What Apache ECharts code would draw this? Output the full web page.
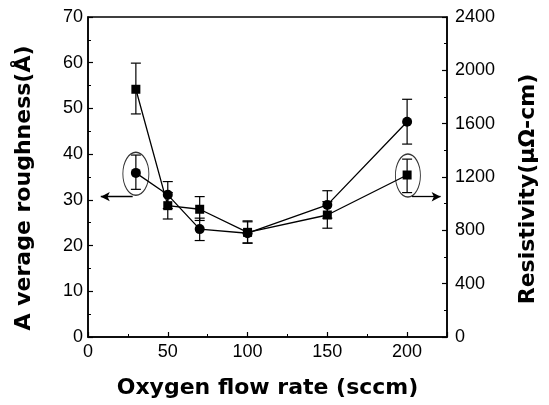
<!DOCTYPE html>
<html><head><meta charset="utf-8">
<script src="https://cdn.jsdelivr.net/npm/echarts@6/dist/echarts.min.js"></script>
<style>html,body{margin:0;padding:0;background:#fff}#c{width:549px;height:405px}</style>
</head><body><div id="c"></div>
<script>
// Data
const flowRates = [30, 50, 70, 100, 150, 200];
// Average roughness (Å) - circles, left axis
const roughness = [35.9, 31.1, 23.6, 22.7, 28.9, 47.1];
const roughnessLow = [32.3, 28.1, 21.1, 20.5, 26.0, 42.2];
const roughnessHigh = [39.8, 34.0, 26.0, 25.2, 32.0, 52.0];
// Resistivity (µΩ-cm) - squares, right axis
const resistivity = [1858, 985, 958, 785, 915, 1215];
const resistivityLow = [1673, 885, 874, 706, 816, 1083];
const resistivityHigh = [2054, 1083, 1053, 871, 1015, 1334];
// Annotation ellipses and arrows (data coords)
const leftEllipse = [30, 35.7];
const rightEllipse = [200.5, 1211];
const leftArrow = [[28, 30.7], [8, 30.7]];
const rightArrow = [[203, 1052], [221, 1052]];
const xTicks = [0, 225, 50];
const yLeftTicks = [0, 70, 10];
const yRightTicks = [0, 2400, 400];

const chart = echarts.init(document.getElementById('c'));
const tickFont = {fontFamily: 'Liberation Sans, Arial, sans-serif', fontSize: 18, color: '#000'};
const titleFont = {fontFamily: 'DejaVu Sans, sans-serif', fontSize: 22, fontWeight: 'bold', color: '#000'};

function errRender(params, api) {
  const x = api.value(0), lo = api.value(1), hi = api.value(2);
  const p1 = api.coord([x, lo]), p2 = api.coord([x, hi]);
  const w = 5;
  const st = {stroke: '#000', lineWidth: 1.2};
  return {type: 'group', children: [
    {type: 'line', shape: {x1: p1[0], y1: p1[1], x2: p2[0], y2: p2[1]}, style: st},
    {type: 'line', shape: {x1: p1[0]-w, y1: p1[1], x2: p1[0]+w, y2: p1[1]}, style: st},
    {type: 'line', shape: {x1: p2[0]-w, y1: p2[1], x2: p2[0]+w, y2: p2[1]}, style: st}
  ]};
}

chart.setOption({
  animation: false,
  backgroundColor: '#fff',
  grid: {left: 88, right: 102, top: 17, bottom: 68, show: true, borderColor: '#000', borderWidth: 1.5},
  xAxis: {
    type: 'value', min: xTicks[0], max: xTicks[1], interval: xTicks[2],
    axisLine: {lineStyle: {color: '#000', width: 1.5}},
    axisTick: {inside: true, length: 5, lineStyle: {color: '#000', width: 1.2}},
    minorTick: {show: true, splitNumber: 2, length: 3, lineStyle: {color: '#000'}},
    splitLine: {show: false},
    axisLabel: Object.assign({margin: 6, showMaxLabel: false}, tickFont),
    name: 'Oxygen flow rate (sccm)', nameLocation: 'middle', nameGap: 40,
    nameTextStyle: titleFont
  },
  yAxis: [{
    type: 'value', min: yLeftTicks[0], max: yLeftTicks[1], interval: yLeftTicks[2],
    axisLine: {show: true, lineStyle: {color: '#000', width: 1.5}},
    axisTick: {show: true, inside: true, length: 5, lineStyle: {color: '#000', width: 1.2}},
    minorTick: {show: true, splitNumber: 2, length: 3, lineStyle: {color: '#000'}},
    splitLine: {show: false},
    axisLabel: Object.assign({margin: 5}, tickFont),
    name: 'A verage roughness(Å)', nameLocation: 'middle', nameGap: 53, nameRotate: 90,
    nameTextStyle: Object.assign({padding: [0, 22, 0, 0]}, titleFont)
  }, {
    type: 'value', position: 'right', min: yRightTicks[0], max: yRightTicks[1], interval: yRightTicks[2],
    axisLine: {show: true, lineStyle: {color: '#000', width: 1.5}},
    axisTick: {show: true, inside: true, length: 5, lineStyle: {color: '#000', width: 1.2}},
    minorTick: {show: true, splitNumber: 2, length: 3, lineStyle: {color: '#000'}},
    splitLine: {show: false},
    axisLabel: Object.assign({margin: 8, formatter: v => String(v)}, tickFont),
    name: 'Resistivity(μΩ-cm)', nameLocation: 'middle', nameGap: 70, nameRotate: 90,
    nameTextStyle: Object.assign({padding: [0, 24, 0, 0]}, titleFont)
  }],
  series: [
    {type: 'custom', yAxisIndex: 0, renderItem: errRender, z: 2,
     data: flowRates.map((x, i) => [x, roughnessLow[i], roughnessHigh[i]])},
    {type: 'custom', yAxisIndex: 1, renderItem: errRender, z: 2,
     data: flowRates.map((x, i) => [x, resistivityLow[i], resistivityHigh[i]])},
    {type: 'line', yAxisIndex: 0, z: 3, symbol: 'circle', symbolSize: 10,
     lineStyle: {color: '#000', width: 1.3}, itemStyle: {color: '#000'},
     data: flowRates.map((x, i) => [x, roughness[i]]),
     markLine: {silent: true, symbol: ['none', 'arrow'], symbolSize: [7, 9],
       label: {show: false}, lineStyle: {color: '#000', width: 1.3, type: 'solid'},
       data: [[{coord: leftArrow[0]}, {coord: leftArrow[1]}]]}},
    {type: 'line', yAxisIndex: 1, z: 3, symbol: 'rect', symbolSize: 9,
     lineStyle: {color: '#000', width: 1.3}, itemStyle: {color: '#000'},
     data: flowRates.map((x, i) => [x, resistivity[i]]),
     markLine: {silent: true, symbol: ['none', 'arrow'], symbolSize: [7, 9],
       label: {show: false}, lineStyle: {color: '#000', width: 1.3, type: 'solid'},
       data: [[{coord: rightArrow[0]}, {coord: rightArrow[1]}]]}},
    {type: 'scatter', yAxisIndex: 0, z: 4, symbol: 'circle', symbolSize: [26, 43],
     itemStyle: {color: 'rgba(0,0,0,0)', borderColor: '#000', borderWidth: 1.2},
     data: [leftEllipse]},
    {type: 'scatter', yAxisIndex: 1, z: 4, symbol: 'circle', symbolSize: [25, 43],
     itemStyle: {color: 'rgba(0,0,0,0)', borderColor: '#000', borderWidth: 1.2},
     data: [rightEllipse]}
  ]
});
</script></body></html>
